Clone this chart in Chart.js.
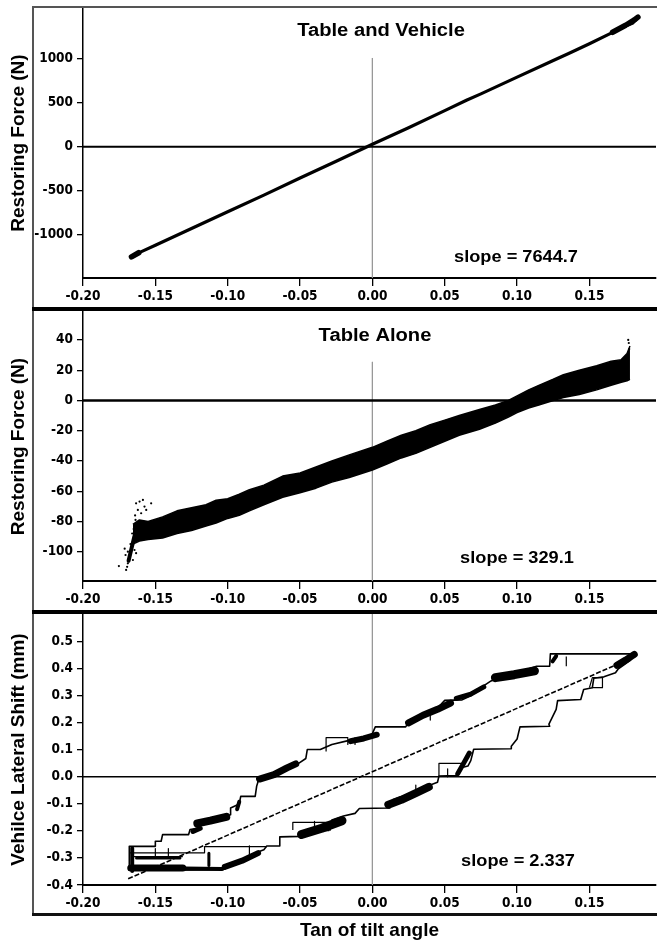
<!DOCTYPE html>
<html><head><meta charset="utf-8">
<script src="https://cdn.jsdelivr.net/npm/chart.js@4.4.1/dist/chart.umd.min.js"></script>
<style>
html,body{margin:0;padding:0;background:#fff;}
#wrap{position:relative;width:657px;height:943px;overflow:hidden;background:#fff;}
.pane{position:absolute;left:0;width:657px;}
.pane canvas{display:block;}
.rule{position:absolute;z-index:5;}
</style></head><body>
<div id="wrap">
  <div class="pane" style="top:0;height:307px"><canvas id="c1" width="657" height="307"></canvas></div>
  <div class="pane" style="top:311px;height:299px"><canvas id="c2" width="657" height="299"></canvas></div>
  <div class="pane" style="top:614px;height:329px"><canvas id="c3" width="657" height="329"></canvas></div>
  <div class="rule" style="left:32px;top:7px;width:2px;height:909px;background:#555"></div>
  <div class="rule" style="left:32px;top:6px;width:625px;height:2px;background:#555"></div>
  <div class="rule" style="left:32px;top:307px;width:625px;height:4px;background:#000"></div>
  <div class="rule" style="left:32px;top:610px;width:625px;height:4px;background:#000"></div>
  <div class="rule" style="left:32px;top:913px;width:625px;height:3px;background:#111"></div>
</div>
<script>
// ---------------- DATA ----------------
const X_MIN = -0.2, X_MAX = 0.196;
const X_TICKS = [-0.20, -0.15, -0.10, -0.05, 0.00, 0.05, 0.10, 0.15];
const X_TITLE = 'Tan of tilt angle';

// Panel 1: Table and Vehicle
const TV_TITLE = 'Table and Vehicle';
const TV_SLOPE = 'slope = 7644.7';
const TV_YTITLE = 'Restoring Force (N)';
const TV_Y_TICKS = [-1000, -500, 0, 500, 1000];
const TV_X = [-0.1665, -0.163, -0.160, -0.150, -0.125, -0.100, -0.075, -0.050, -0.025, 0.000, 0.025, 0.050, 0.065, 0.075, 0.100, 0.125, 0.136, 0.150, 0.165, 0.175, 0.180, 0.1835];
const TV_Y = [-1250, -1220, -1195, -1120, -930, -740, -550, -355, -165, 28, 215, 410, 528, 600, 790, 980, 1061, 1170, 1290, 1370, 1405, 1470];
const TV_END_LEFT = [[-0.1665, -1252], [-0.1615, -1205]];
const TV_END_RIGHT = [[0.166, 1300], [0.175, 1380], [0.181, 1440], [0.1835, 1472]];

// Panel 2: Table Alone (band of scattered points: upper and lower edges)
const TA_TITLE = 'Table Alone';
const TA_SLOPE = 'slope = 329.1';
const TA_YTITLE = 'Restoring Force (N)';
const TA_Y_TICKS = [-100, -80, -60, -40, -20, 0, 20, 40];
const TA_X = [-0.1655, -0.161, -0.155, -0.145, -0.135, -0.125, -0.115, -0.108, -0.100, -0.092, -0.085, -0.075, -0.062, -0.050, -0.039, -0.028, -0.016, 0.000, 0.010, 0.020, 0.030, 0.040, 0.050, 0.060, 0.074, 0.085, 0.094, 0.100, 0.108, 0.115, 0.125, 0.132, 0.143, 0.155, 0.165, 0.172, 0.176, 0.178];
const TA_UPPER = [-82, -79, -80, -77, -73, -71, -69, -66, -65, -62, -59, -56, -50, -48, -44, -40, -36, -31, -27, -23, -20, -16, -13, -10, -6, -3, 0, 3, 7, 10, 14, 17, 20, 23, 26, 27, 31, 36];
const TA_LOWER = [-95, -93, -92, -91, -88, -86, -83, -81, -78, -76, -73, -69, -64, -61, -58, -54, -51, -46, -42, -38, -35, -31, -27, -23, -19, -15, -11, -8, -5, -3, 0, 2, 4, 7, 10, 12, 13, 14];
const TA_SMEAR = [[-0.1685, -106], [-0.1665, -98], [-0.1645, -90], [-0.1625, -84]];
const TA_OUT_X = [-0.1752, -0.1702, -0.169, -0.1678, -0.1706, -0.1655, -0.1644, -0.1667, -0.1633, -0.1633, -0.1609, -0.1586, -0.1575, -0.1621, -0.1598, -0.1563, -0.1529, -0.1637, -0.1660, -0.1690, -0.1672, -0.1712, -0.1695, -0.1650, -0.1640, 0.1772, 0.1768, 0.1775];
const TA_OUT_Y = [-109.5, -112.1, -107.7, -103.3, -102.2, -105.5, -98.9, -96.7, -101, -68, -66.9, -65.8, -70.2, -72.4, -74.6, -72.4, -68, -79, -88, -100, -95, -98, -110, -85, -76, 38, 40, 34];

// Panel 3: Vehicle lateral shift (hysteresis loop)
const LS_SLOPE = 'slope = 2.337';
const LS_YTITLE = 'Vehilce Lateral Shift (mm)';
const LS_Y_TICKS = [-0.4, -0.3, -0.2, -0.1, 0.0, 0.1, 0.2, 0.3, 0.4, 0.5];
const LS_LOOP = [
  [0.182, 0.455], [0.178, 0.43], [0.170, 0.40], [0.168, 0.385], [0.160, 0.37], [0.153, 0.365], [0.152, 0.33],
  [0.146, 0.323], [0.144, 0.286], [0.128, 0.282], [0.127, 0.25], [0.122, 0.195], [0.1225, 0.187], [0.102, 0.185],
  [0.100, 0.14], [0.096, 0.113], [0.096, 0.104], [0.070, 0.102], [0.068, 0.06], [0.066, 0.04], [0.062, 0.035],
  [0.058, 0.005], [0.046, 0.003], [0.045, -0.02], [0.040, -0.03], [0.030, -0.05], [0.022, -0.07], [0.014, -0.085],
  [0.012, -0.115], [-0.009, -0.117], [-0.012, -0.135], [-0.020, -0.145], [-0.028, -0.16], [-0.030, -0.198],
  [-0.045, -0.2], [-0.050, -0.22], [-0.064, -0.222], [-0.064, -0.256], [-0.073, -0.256], [-0.075, -0.27],
  [-0.085, -0.29], [-0.095, -0.32], [-0.103, -0.343], [-0.140, -0.345], [-0.168, -0.345], [-0.168, -0.257],
  [-0.150, -0.257], [-0.150, -0.238], [-0.146, -0.238], [-0.145, -0.2135], [-0.127, -0.2135], [-0.126, -0.195],
  [-0.121, -0.19], [-0.119, -0.165], [-0.112, -0.158], [-0.104, -0.15], [-0.098, -0.14], [-0.098, -0.115],
  [-0.092, -0.10], [-0.091, -0.072], [-0.081, -0.072], [-0.080, -0.035], [-0.078, 0.0], [-0.070, 0.003],
  [-0.064, 0.02], [-0.058, 0.04], [-0.051, 0.05], [-0.046, 0.068], [-0.045, 0.101], [-0.036, 0.101],
  [-0.028, 0.12], [-0.016, 0.135], [-0.005, 0.145], [0.000, 0.16], [0.002, 0.185], [0.023, 0.185],
  [0.026, 0.21], [0.035, 0.235], [0.045, 0.255], [0.050, 0.283], [0.062, 0.285], [0.068, 0.30],
  [0.075, 0.33], [0.082, 0.355], [0.090, 0.37], [0.100, 0.385], [0.1135, 0.409], [0.1225, 0.409],
  [0.123, 0.455], [0.182, 0.455]
];
const LS_FIT_X = [-0.1688, 0.1823];
const LS_FIT_Y = [-0.377, 0.447];
const LS_INNER = [
  [[-0.168, -0.281], [-0.116, -0.281], [-0.116, -0.258], [-0.073, -0.258]],
  [[-0.166, -0.295], [-0.131, -0.295]],
  [[-0.055, -0.197], [-0.055, -0.168], [-0.029, -0.168], [-0.029, -0.197]],
  [[-0.032, 0.094], [-0.032, 0.145], [-0.017, 0.145], [-0.017, 0.12]],
  [[0.046, 0.0], [0.046, 0.05], [0.063, 0.05]],
  [[0.134, 0.409], [0.134, 0.445]],
  [[0.150, 0.33], [0.152, 0.367], [0.159, 0.367], [0.159, 0.33], [0.152, 0.33]],
  [[-0.150, -0.265], [-0.150, -0.30]], [[-0.141, -0.265], [-0.141, -0.30]],
  [[-0.012, 0.145], [-0.012, 0.12]], [[0.040, 0.24], [0.040, 0.21]],
  [[0.052, 0.03], [0.052, 0.0]], [[0.030, -0.03], [0.030, -0.07]],
  [[-0.040, -0.165], [-0.040, -0.2]], [[-0.085, -0.255], [-0.085, -0.285]]
];
const LS_NOISE = [
  [[-0.121, -0.172], [-0.112, -0.162], [-0.101, -0.148]],
  [[-0.124, -0.202], [-0.119, -0.19]],
  [[-0.0935, -0.12], [-0.092, -0.092]],
  [[-0.078, -0.008], [-0.068, 0.008], [-0.059, 0.033], [-0.053, 0.048]],
  [[-0.015, 0.132], [-0.006, 0.142], [0.003, 0.156]],
  [[0.025, 0.2], [0.035, 0.228], [0.045, 0.25], [0.054, 0.273]],
  [[0.058, 0.29], [0.068, 0.306], [0.077, 0.333]],
  [[0.085, 0.367], [0.098, 0.378], [0.112, 0.392]],
  [[0.1245, 0.427], [0.127, 0.447]],
  [[0.169, 0.413], [0.175, 0.432], [0.181, 0.453]],
  [[0.059, 0.012], [0.063, 0.05], [0.067, 0.088]],
  [[0.011, -0.103], [0.020, -0.085], [0.030, -0.06], [0.039, -0.037]],
  [[-0.049, -0.213], [-0.035, -0.19], [-0.021, -0.162]],
  [[-0.102, -0.333], [-0.090, -0.31], [-0.079, -0.282]],
  [[-0.167, -0.337], [-0.131, -0.337]],
  [[-0.130, -0.339], [-0.104, -0.341]],
  [[-0.166, -0.264], [-0.166, -0.348]],
  [[-0.163, -0.300], [-0.133, -0.300]],
  [[-0.113, -0.283], [-0.113, -0.328]]
];

// ---------------- STYLE / BUILD ----------------
const NOISE_WIDTHS = [8, 5, 4, 7, 6, 7, 5, 9, 4, 7, 5, 8, 9, 6, 7, 4, 4, 3, 3];
const FONT_TICK = {family: "'DejaVu Sans Condensed', 'DejaVu Sans', sans-serif", size: 13.5, weight: 'bold'};
const FONT_AXIS_TITLE = {family: "'Liberation Sans', Arial, sans-serif", size: 19, weight: 'bold'};

const pts = (xs, ys) => xs.map((x, i) => ({x: x, y: ys[i]}));
const pairs = arr => arr.map(p => ({x: p[0], y: p[1]}));

function lineDs(data, width, extra) {
  return Object.assign({data: data, borderColor: '#000', backgroundColor: '#000', borderWidth: width,
    pointRadius: 0, showLine: true, fill: false, tension: 0, borderJoinStyle: 'round'}, extra || {});
}
function refLines(yMin, yMax, vTop, hWidth) {
  return [
    lineDs([{x: 0, y: vTop}, {x: 0, y: yMin}], 1, {borderColor: '#999', order: 10}),
    lineDs([{x: X_MIN, y: 0}, {x: X_MAX, y: 0}], hWidth, {order: 9})
  ];
}

const panelText = {
  id: 'panelText',
  afterDraw(chart, args, o) {
    const ctx = chart.ctx;
    ctx.save();
    ctx.fillStyle = '#000';
    ctx.textAlign = 'center';
    ctx.textBaseline = 'middle';
    const draw = (txt, x, y, size, sx) => {
      ctx.save();
      ctx.translate(x, y);
      ctx.scale(sx, 1);
      ctx.font = 'bold ' + size + "px 'Liberation Sans', Arial, sans-serif";
      ctx.fillText(txt, 0, 0);
      ctx.restore();
    };
    if (o.title) draw(o.title, o.titleX, o.titleY, 18, 1.12);
    if (o.slope) draw(o.slope, o.slopeX, o.slopeY, 17, 1.07);
    ctx.restore();
  }
};

function makeChart(id, c) {
  const xScale = {
    type: 'linear', position: 'bottom', min: X_MIN, max: X_MAX,
    afterBuildTicks: s => { s.ticks = X_TICKS.map(v => ({value: v})); },
    afterFit: s => { s.height = c.xH; s.paddingLeft = 0; s.paddingRight = 0; },
    grid: {drawOnChartArea: false, drawTicks: true, tickLength: 8, color: '#000', lineWidth: 1.3},
    border: {display: true, color: '#000', width: 2},
    ticks: {color: '#000', font: FONT_TICK, padding: 2, maxRotation: 0, minRotation: 0, autoSkip: false,
      callback: v => Number(v).toFixed(2)},
    title: c.xTitle ? {display: true, text: c.xTitle, color: '#000', font: FONT_AXIS_TITLE, padding: {top: 0, bottom: 1}} : {display: false}
  };
  const yScale = {
    type: 'linear', position: 'left', min: c.yMin, max: c.yMax,
    afterBuildTicks: s => { s.ticks = c.yTicks.map(v => ({value: v})); },
    afterFit: s => { s.width = 83; s.paddingTop = 0; s.paddingBottom = 0; },
    grid: {drawOnChartArea: false, drawTicks: true, tickLength: 6, color: '#000', lineWidth: 1.3},
    border: {display: true, color: '#000', width: 1.5},
    ticks: {color: '#000', font: FONT_TICK, padding: 4, autoSkip: false, callback: c.yFmt},
    title: {display: true, text: c.yTitle, color: '#000', font: FONT_AXIS_TITLE, padding: {top: 7, bottom: 0}}
  };
  return new Chart(document.getElementById(id), {
    type: 'line',
    data: {datasets: c.datasets},
    options: {
      responsive: false, maintainAspectRatio: false, animation: false,
      layout: {autoPadding: false, padding: {top: c.padTop, right: 1, bottom: 0, left: 0}},
      plugins: {legend: {display: false}, tooltip: {enabled: false}, panelText: c.text},
      events: [],
      scales: {x: xScale, y: yScale}
    },
    plugins: [panelText]
  });
}

// Panel 1
makeChart('c1', {
  yMin: -1492, yMax: 1576, yTicks: TV_Y_TICKS, yTitle: TV_YTITLE, yFmt: v => String(v),
  padTop: 8, xH: 29,
  text: {title: TV_TITLE, titleX: 381, titleY: 31, slope: TV_SLOPE, slopeX: 516, slopeY: 257},
  datasets: [
    ...refLines(-1492, 1576, 1008, 2),
    lineDs(pts(TV_X, TV_Y), 3.2),
    lineDs(pairs(TV_END_LEFT), 5.5, {borderCapStyle: 'round'}),
    lineDs(pairs(TV_END_RIGHT), 5.5, {borderCapStyle: 'round'})
  ]
});

// Panel 2
makeChart('c2', {
  yMin: -119.4, yMax: 58.5, yTicks: TA_Y_TICKS, yTitle: TA_YTITLE, yFmt: v => String(v),
  padTop: 1, xH: 29,
  text: {title: TA_TITLE, titleX: 375, titleY: 25, slope: TA_SLOPE, slopeX: 517, slopeY: 247},
  datasets: [
    ...refLines(-119.4, 58.5, 25.5, 2.5),
    lineDs(pts(TA_X, TA_UPPER), 1.5, {fill: '+1'}),
    lineDs(pts(TA_X, TA_LOWER), 1.5),
    lineDs(pairs(TA_SMEAR), 4, {borderCapStyle: 'round'}),
    {data: pts(TA_OUT_X, TA_OUT_Y), showLine: false, pointRadius: 1.1, pointBorderWidth: 0,
     pointBackgroundColor: '#000', borderColor: '#000'}
  ]
});

// Panel 3
const lsDatasets = [
  ...refLines(-0.4, 0.6025, 0.6025, 1.5),
  lineDs(pairs(LS_LOOP), 1.6),
  lineDs(pts(LS_FIT_X, LS_FIT_Y), 1.6, {borderDash: [5, 2], borderJoinStyle: 'miter'})
];
LS_INNER.forEach(seg => lsDatasets.push(lineDs(pairs(seg), 1.2)));
LS_NOISE.forEach((seg, i) => lsDatasets.push(lineDs(pairs(seg), NOISE_WIDTHS[i], {borderCapStyle: 'round'})));
makeChart('c3', {
  yMin: -0.4, yMax: 0.6025, yTicks: LS_Y_TICKS, yTitle: LS_YTITLE, yFmt: v => Number(v).toFixed(1),
  padTop: 0, xH: 58, xTitle: X_TITLE,
  text: {slope: LS_SLOPE, slopeX: 518, slopeY: 247},
  datasets: lsDatasets
});
</script>
</body></html>
